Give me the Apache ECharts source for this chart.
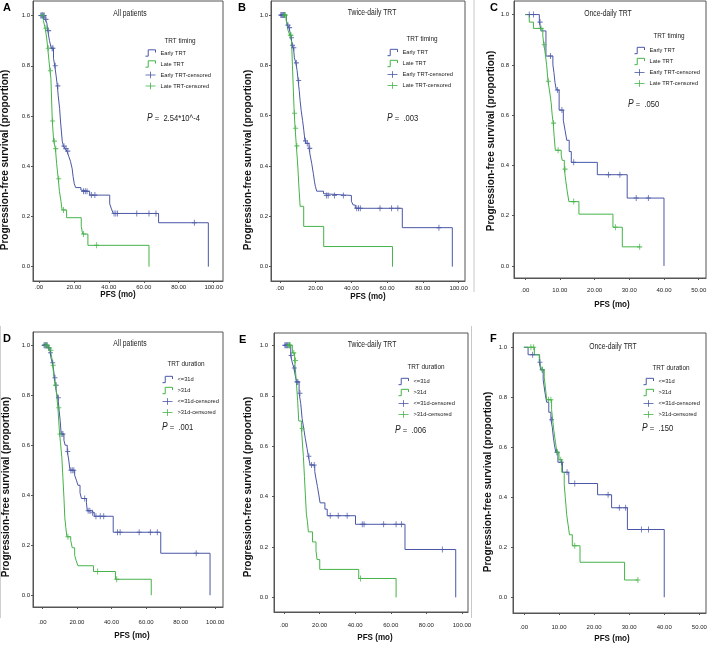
<!DOCTYPE html>
<html><head><meta charset="utf-8">
<script src="https://cdn.jsdelivr.net/npm/echarts@6/dist/echarts.min.js"></script>
<style>html,body{margin:0;padding:0;background:#fff}#c{width:709px;height:645px}</style>
</head><body><div id="c"></div>
<script>
// ---------- tick labels ----------
const xTicks100 = [0, 20, 40, 60, 80, 100];
const xTicks50 = [0, 10, 20, 30, 40, 50];
const yTicks = [0, 0.2, 0.4, 0.6, 0.8, 1.0];

// ---------- Panel A: All patients, TRT timing ----------
const aEarly = [[0,1],[3.5,0.985],[4.5,0.97],[5,0.94],[6,0.9],[7,0.87],[8.3,0.83],[9,0.8],[9.8,0.76],[10.5,0.72],[11,0.68],[11.8,0.63],[12.3,0.58],[12.8,0.54],[13.3,0.5],[14,0.48],[15,0.47],[16,0.46],[17,0.44],[18,0.42],[19,0.39],[19.5,0.36],[20.2,0.33],[21,0.315],[24,0.305],[25,0.3],[29,0.285],[40.5,0.25],[41.5,0.23],[42.5,0.212],[68.5,0.175],[97,0]];
const aEarlyCens = [[1,1],[1.5,1],[2,1],[2.5,1],[3,1],[4,0.985],[5.5,0.94],[7.5,0.87],[8,0.87],[9.3,0.8],[10.8,0.72],[14.3,0.48],[15.5,0.47],[16.5,0.46],[25.5,0.3],[26.5,0.3],[27.5,0.3],[30,0.285],[32,0.285],[43,0.212],[44,0.212],[45,0.212],[56,0.212],[63,0.212],[67,0.212],[89,0.175]];
const aLate = [[0,1],[2.5,0.98],[3.5,0.95],[4.4,0.91],[5,0.87],[5.7,0.82],[6.3,0.78],[6.8,0.75],[7.6,0.58],[8.4,0.5],[9.4,0.47],[10.1,0.41],[11,0.35],[11.7,0.3],[12.6,0.26],[13.2,0.226],[15.8,0.195],[24.2,0.16],[25,0.13],[28,0.085],[63,0]];
const aLateCens = [[2,1],[4,0.95],[5.3,0.87],[6.5,0.78],[7.8,0.58],[8.8,0.5],[9.6,0.47],[11.3,0.35],[14,0.226],[25.5,0.13],[33,0.085]];

// ---------- Panel B: Twice-daily TRT, TRT timing ----------
const bEarly = [[0,1],[3.6,0.98],[4.2,0.96],[5.1,0.95],[5.7,0.93],[6.2,0.91],[6.8,0.88],[7.6,0.87],[8.1,0.83],[8.9,0.81],[9.6,0.78],[10.2,0.74],[10.8,0.7],[11.3,0.66],[11.9,0.62],[12.7,0.58],[13.4,0.54],[14,0.5],[14.7,0.49],[16.3,0.47],[17,0.44],[17.8,0.41],[18.7,0.37],[19.3,0.34],[19.8,0.32],[20.6,0.3],[24.4,0.29],[25.1,0.283],[40,0.26],[41,0.245],[42.2,0.232],[68.5,0.155],[96.5,0]];
const bEarlyCens = [[0.5,1],[1,1],[1.5,1],[2,1],[2.5,1],[4.5,0.96],[5.4,0.95],[6.5,0.91],[7,0.88],[7.8,0.87],[9.2,0.81],[10.5,0.74],[14.3,0.5],[15.3,0.49],[16.7,0.47],[26,0.283],[27,0.283],[30.5,0.283],[35.5,0.283],[43,0.232],[44,0.232],[45,0.232],[56,0.232],[62.5,0.232],[66,0.232],[89,0.155]];
const bLate = [[0,1],[3.5,0.98],[4,0.96],[4.5,0.94],[5.5,0.92],[6.5,0.9],[7,0.8],[8,0.61],[8.5,0.55],[9.2,0.48],[10,0.4],[10.6,0.32],[11.3,0.24],[13.3,0.16],[24.5,0.08],[63,0]];
const bLateCens = [[2.5,1],[3,1],[5.8,0.92],[6.2,0.92],[8.2,0.61],[8.8,0.55],[9.5,0.48]];

// ---------- Panel C: Once-daily TRT, TRT timing ----------
const cEarly = [[0,1],[4.1,0.97],[4.6,0.935],[6,0.835],[8,0.8],[8.3,0.77],[8.6,0.73],[9,0.7],[9.8,0.62],[11,0.58],[11.5,0.54],[12,0.5],[12.7,0.455],[13.3,0.412],[20.8,0.363],[29.4,0.27],[40,0]];
const cEarlyCens = [[1.2,1],[2.4,1],[4.3,0.97],[7.3,0.835],[9.3,0.7],[10.6,0.62],[14,0.412],[24,0.363],[27.3,0.363],[32,0.27],[35.5,0.27]];
const cLate = [[0,1],[1.2,0.97],[2.4,0.945],[5.1,0.915],[5.4,0.88],[5.7,0.855],[6.2,0.8],[6.6,0.735],[7,0.7],[7.5,0.65],[7.8,0.6],[8.1,0.568],[8.4,0.51],[8.7,0.46],[10.4,0.44],[10.7,0.42],[11.3,0.385],[11.7,0.34],[12.1,0.3],[12.6,0.256],[15.5,0.206],[25.3,0.154],[28,0.076],[33,0.076]];
const cLateCens = [[4.6,0.945],[5.5,0.88],[6.7,0.735],[8.2,0.568],[9.5,0.46],[11.5,0.385],[14,0.256],[26,0.154],[33,0.076]];

// ---------- Panel D: All patients, TRT duration ----------
const dShort = [[0,1],[3.1,0.99],[4.5,0.97],[5,0.95],[5.7,0.93],[6.4,0.91],[7,0.87],[7.6,0.84],[8.2,0.81],[9,0.79],[9.7,0.74],[10.3,0.7],[10.9,0.645],[12.5,0.62],[13.2,0.6],[14.4,0.575],[15.2,0.545],[16,0.5],[18.7,0.48],[19.7,0.46],[20.6,0.44],[21.8,0.41],[22.6,0.387],[25.5,0.37],[26,0.338],[28.5,0.33],[30,0.316],[41,0.252],[68.5,0.168],[97,0]];
const dShortCens = [[1,1],[1.5,1],[2,1],[2.5,1],[3.6,0.99],[4.7,0.97],[6,0.93],[7.3,0.87],[8,0.84],[9.3,0.79],[11.3,0.645],[11.9,0.645],[14.7,0.575],[16.5,0.5],[17.3,0.5],[18.2,0.5],[24.5,0.387],[26.5,0.338],[27.5,0.338],[29,0.33],[31,0.316],[33.5,0.316],[35.5,0.316],[43.5,0.252],[45,0.252],[56,0.252],[62.5,0.252],[66.5,0.252],[89,0.168]];
const dLong = [[0,1],[3.1,0.99],[4.5,0.98],[5.5,0.95],[6,0.92],[6.6,0.88],[7.4,0.84],[8,0.82],[9,0.75],[10,0.645],[10.5,0.61],[11.3,0.55],[11.9,0.47],[12.5,0.39],[13,0.31],[13.6,0.27],[14.2,0.234],[16.4,0.22],[17.3,0.19],[18.7,0.16],[19.5,0.14],[20.6,0.118],[29.6,0.095],[42.3,0.064],[63,0]];
const dLongCens = [[2,1],[3,1],[4,0.99],[5,0.98],[6.3,0.92],[7.7,0.84],[9.5,0.75],[10.2,0.645],[14.8,0.234],[32,0.095],[43,0.064]];

// ---------- Panel E: Twice-daily TRT, TRT duration ----------
const eShort = [[0,1],[3.8,0.96],[4.7,0.93],[5.6,0.91],[6.6,0.87],[7.1,0.855],[8.5,0.81],[9.4,0.77],[10.2,0.71],[11.1,0.67],[12,0.63],[13,0.59],[13.7,0.56],[14.7,0.525],[17.3,0.5],[18,0.47],[18.8,0.44],[19.5,0.41],[20.3,0.375],[23,0.35],[24.3,0.324],[40.2,0.29],[68,0.19],[96.5,0]];
const eShortCens = [[0.5,1],[1,1],[1.5,1],[2,1],[3,1],[4,0.96],[5.8,0.91],[7.3,0.855],[7.8,0.855],[9,0.81],[14,0.56],[15.5,0.525],[17,0.525],[26,0.324],[30.5,0.324],[35.5,0.324],[44,0.29],[45,0.29],[56,0.29],[63,0.29],[66,0.29],[89,0.19]];
const eLong = [[0,1],[4.7,0.97],[6,0.94],[6.8,0.87],[7.7,0.78],[8.3,0.7],[9.8,0.67],[10.9,0.56],[11.5,0.48],[12,0.41],[12.6,0.33],[13.2,0.3],[13.7,0.26],[16,0.22],[18,0.185],[18.6,0.15],[20.1,0.111],[42,0.075],[63,0]];
const eLongCens = [[2.5,1],[3,1],[3.5,1],[5.5,0.97],[6.5,0.94],[10.2,0.67],[43,0.075]];

// ---------- Panel F: Once-daily TRT, TRT duration ----------
const fShort = [[0,1],[1.2,0.97],[4.4,0.94],[4.8,0.91],[5.5,0.87],[6,0.82],[6.5,0.78],[7.1,0.74],[7.7,0.71],[8.1,0.68],[8.4,0.64],[8.7,0.61],[9.1,0.58],[9.7,0.54],[11,0.5],[12.8,0.455],[21,0.41],[25,0.358],[29.5,0.271],[40,0]];
const fShortCens = [[2.5,0.97],[4.6,0.94],[5.2,0.91],[7.9,0.71],[9.4,0.58],[10.7,0.54],[12.3,0.5],[14.5,0.455],[24,0.41],[27.2,0.358],[29,0.358],[33.5,0.271],[35.5,0.271]];
const fLong = [[0,1],[3,0.97],[4.5,0.94],[5,0.91],[5.8,0.88],[6.2,0.83],[6.5,0.79],[7.9,0.75],[8.2,0.71],[8.5,0.67],[9,0.62],[9.4,0.58],[10,0.55],[10.8,0.5],[11.5,0.45],[11.8,0.4],[12.2,0.33],[12.6,0.29],[13,0.25],[13.8,0.206],[16,0.14],[28.7,0.069],[32.5,0.069]];
const fLongCens = [[2,1],[2.8,1],[5.3,0.91],[7,0.79],[7.7,0.79],[9.6,0.58],[10.5,0.55],[14.5,0.206],[32.5,0.069]];

// ---------- texts ----------
const timingNames = ['Early TRT', 'Late TRT', 'Early TRT-censored', 'Late TRT-censored'];
const durationNames = ['<=31d', '>31d', '<=31d-censored', '>31d-censored'];

// ---------- layout / styles ----------
const BLUE = '#4a57a6', GREEN = '#45b348', FRAME = '#555', TXT = '#222';
const FONT = "'Liberation Sans',Arial,sans-serif";
const STEP_ICON = 'path://M0,8 L3,8 L3,1 L11,1 L11,4';
const CENS_ICON = 'path://M0,5 L12,5 M6,1 L6,9';
const PLUS = 'path://M0,5 L10,5 M5,0 L5,10';
const NARROW = 0.8;

const panels = [
  {letter:'A', sub:'All patients', head:'TRT timing', names:timingNames, p:'2.54*10^-4',
   curves:[aEarly, aLate], cens:[aEarlyCens, aLateCens],
   grid:{left:33, top:1, width:190, height:280}, x:[-3.45,105.4], ticks:xTicks100, y:[-0.057,1.058], xm:3, ym:3,
   letterPos:[3,2], subPos:[130,14], headPos:[180,41], legPos:[145,48.5], pPos:[147,118], yt:[5,160], xt:[118,294]},
  {letter:'B', sub:'Twice-daily TRT', head:'TRT timing', names:timingNames, p:'.003',
   curves:[bEarly, bLate], cens:[bEarlyCens, bLateCens],
   grid:{left:271, top:1, width:194, height:280}, x:[-5,103.6], ticks:xTicks100, y:[-0.057,1.056], xm:4, ym:3,
   letterPos:[238,2], subPos:[372,13], headPos:[422,39], legPos:[387,48], pPos:[387,118], yt:[248,160], xt:[368,296]},
  {letter:'C', sub:'Once-daily TRT', head:'TRT timing', names:timingNames, p:'.050',
   curves:[cEarly, cLate], cens:[cEarlyCens, cLateCens],
   grid:{left:514, top:1, width:192, height:277}, x:[-3.2,52.1], ticks:xTicks50, y:[-0.048,1.054], xm:9, ym:5,
   letterPos:[490,2], subPos:[608,14], headPos:[669,36], legPos:[634,46], pPos:[628,104], yt:[491,141], xt:[612,304]},
  {letter:'D', sub:'All patients', head:'TRT duration', names:durationNames, p:'.001',
   curves:[dShort, dLong], cens:[dShortCens, dLongCens],
   grid:{left:33, top:332, width:190, height:275}, x:[-5.4,104.5], ticks:xTicks100, y:[-0.047,1.053], xm:12, ym:3,
   letterPos:[3,333], subPos:[130,344], headPos:[186,364], legPos:[162,375], pPos:[162,427], yt:[6,487], xt:[132,635]},
  {letter:'E', sub:'Twice-daily TRT', head:'TRT duration', names:durationNames, p:'.006',
   curves:[eShort, eLong], cens:[eShortCens, eLongCens],
   grid:{left:274, top:333, width:194, height:279}, x:[-5.6,103.4], ticks:xTicks100, y:[-0.058,1.049], xm:10, ym:6,
   letterPos:[239,334], subPos:[372,345], headPos:[426,367], legPos:[398,377], pPos:[395,430], yt:[248,487], xt:[375,637]},
  {letter:'F', sub:'Once-daily TRT', head:'TRT duration', names:durationNames, p:'.150',
   curves:[fShort, fLong], cens:[fShortCens, fLongCens],
   grid:{left:513, top:333, width:193, height:280}, x:[-3.1,51.9], ticks:xTicks50, y:[-0.063,1.057], xm:11, ym:6,
   letterPos:[490,333], subPos:[613,347], headPos:[671,368], legPos:[643,377], pPos:[642,428], yt:[488,482], xt:[612,638]}
];

const option = {animation:false, backgroundColor:'#fff', grid:[], xAxis:[], yAxis:[], series:[], legend:[], graphic:[]};
const colors = [BLUE, GREEN];

// faint edges of the sub-figure images
option.graphic.push({type:'line', shape:{x1:474, y1:0, x2:474, y2:292}, style:{stroke:'#c8c8c8', lineWidth:1}, silent:true});
option.graphic.push({type:'line', shape:{x1:471.5, y1:326, x2:471.5, y2:618}, style:{stroke:'#c8c8c8', lineWidth:1}, silent:true});
option.graphic.push({type:'line', shape:{x1:0.5, y1:326, x2:0.5, y2:618}, style:{stroke:'#d0d0d0', lineWidth:1}, silent:true});

panels.forEach((p, i) => {
  option.grid.push(Object.assign({show:true, borderColor:FRAME, borderWidth:1, backgroundColor:'#fff', containLabel:false, outerBoundsMode:'none'}, p.grid));
  option.xAxis.push({gridIndex:i, type:'value', min:p.x[0], max:p.x[1],
    splitLine:{show:false},
    axisLine:{show:true, onZero:false, lineStyle:{color:FRAME, width:1}},
    axisTick:{show:true, customValues:p.ticks, length:2, lineStyle:{color:FRAME}},
    axisLabel:{customValues:p.ticks, fontSize:6, color:TXT, fontFamily:FONT, margin:p.xm,
      formatter:v => v === 0 ? '.00' : v.toFixed(2)}});
  option.yAxis.push({gridIndex:i, type:'value', min:p.y[0], max:p.y[1],
    splitLine:{show:false},
    axisLine:{show:true, onZero:false, lineStyle:{color:FRAME, width:1}},
    axisTick:{show:true, customValues:yTicks, length:2, lineStyle:{color:FRAME}},
    axisLabel:{customValues:yTicks, fontSize:6, color:TXT, fontFamily:FONT, margin:p.ym,
      formatter:v => v.toFixed(1)}});
  [0,1].forEach(k => {
    option.series.push({type:'line', name:p.names[k], xAxisIndex:i, yAxisIndex:i, data:p.curves[k],
      step:'end', symbol:'none', silent:true, z:2,
      lineStyle:{color:colors[k], width:1}, itemStyle:{color:colors[k]}});
  });
  [0,1].forEach(k => {
    option.series.push({type:'scatter', name:p.names[k+2], xAxisIndex:i, yAxisIndex:i, data:p.cens[k],
      symbol:PLUS, symbolSize:[5,6], silent:true, z:3,
      itemStyle:{color:'rgba(0,0,0,0)', borderColor:colors[k], borderWidth:1}});
  });
  option.legend.push({left:p.legPos[0], top:p.legPos[1], orient:'vertical', itemWidth:10, itemHeight:7, itemGap:2,
    selectedMode:false, padding:0,
    textStyle:{fontSize:5.7, color:TXT, fontFamily:FONT, lineHeight:9},
    data:p.names.map((n, k) => ({name:n, icon:k < 2 ? STEP_ICON : CENS_ICON,
      itemStyle:{color:'rgba(0,0,0,0)', borderColor:colors[k % 2], borderWidth:1}}))});
  const g = option.graphic;
  g.push({type:'text', left:p.letterPos[0], top:p.letterPos[1], style:{text:p.letter, font:"bold 11px " + FONT, fill:'#000'}});
  g.push({type:'text', x:p.subPos[0], y:p.subPos[1], scaleX:NARROW, style:{text:p.sub, font:"8.5px " + FONT, fill:TXT, align:'center', verticalAlign:'middle'}});
  g.push({type:'text', x:p.headPos[0], y:p.headPos[1], scaleX:NARROW, style:{text:p.head, font:"8px " + FONT, fill:TXT, align:'center', verticalAlign:'middle'}});
  g.push({type:'text', x:p.pPos[0], y:p.pPos[1], scaleX:NARROW, style:{text:'{i|P} =  ' + p.p, font:"9.5px " + FONT, fill:TXT, verticalAlign:'middle',
    rich:{i:{fontStyle:'italic', fontSize:10.5, fontFamily:FONT, fill:TXT}}}});
  g.push({type:'text', x:p.yt[0], y:p.yt[1], rotation:Math.PI/2, style:{text:'Progression-free survival (proportion)', font:"bold 10px " + FONT, fill:'#111', align:'center', verticalAlign:'middle'}});
  g.push({type:'text', x:p.xt[0], y:p.xt[1], scaleX:0.85, style:{text:'PFS (mo)', font:"bold 9.5px " + FONT, fill:'#111', align:'center', verticalAlign:'middle'}});
});

const chart = echarts.init(document.getElementById('c'), null, {renderer:'canvas'});
chart.setOption(option);
</script>
</body></html>
